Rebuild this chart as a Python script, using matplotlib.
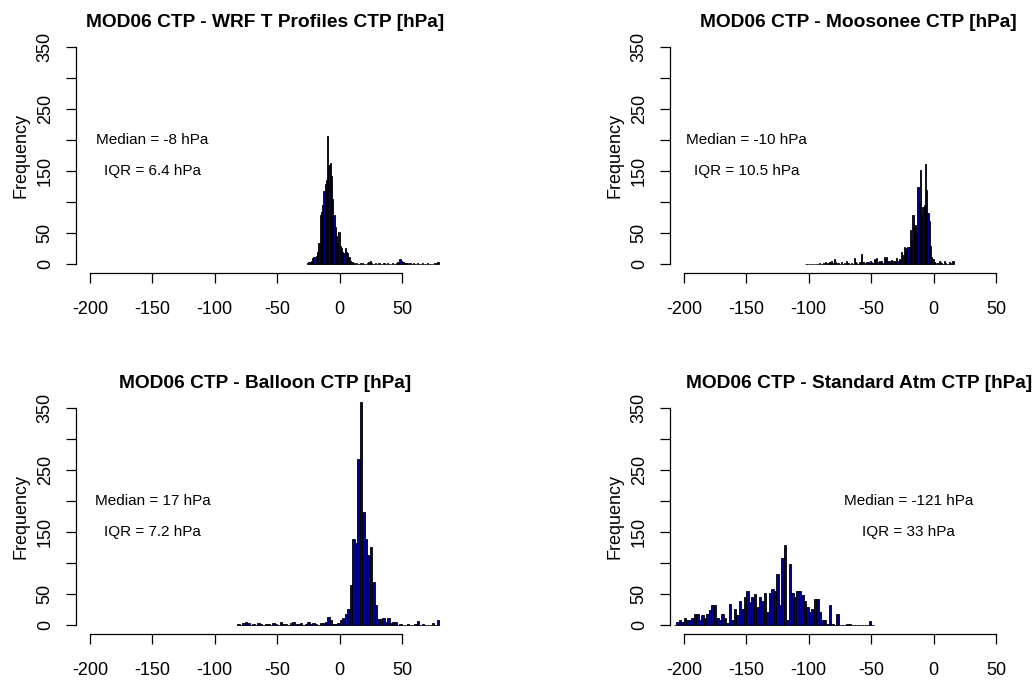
import numpy as np
import matplotlib
matplotlib.use("Agg")
import matplotlib.pyplot as plt

plt.rcParams['font.family'] = ['Liberation Sans', 'DejaVu Sans']

# MOD06 CTP - WRF T profiles, 1 hPa bins
wrf_edges = np.arange(-26, 81, 1)
wrf_counts = [2, 3, 4, 6, 10, 12, 9, 14, 20, 35,
              80, 85, 95, 118, 130, 136, 207, 160, 163, 142,
              105, 80, 60, 46, 35, 52, 30, 26, 20, 18,
              26, 20, 18, 12, 6, 4, 3, 2, 1, 2,
              1, 1, 2, 1, 2, 1, 1, 1, 2, 3,
              6, 2, 1, 1, 2, 1, 1, 2, 1, 1,
              1, 2, 1, 1, 2, 1, 1, 1, 2, 1,
              1, 2, 3, 2, 8, 6, 4, 3, 2, 2,
              2, 1, 2, 1, 1, 2, 1, 1, 2, 1,
              1, 1, 2, 1, 1, 1, 2, 1, 1, 1,
              1, 1, 2, 1, 3, 4]

# MOD06 CTP - Moosonee, 1 hPa bins
moos_edges = np.arange(-103, 17, 1)
moos_counts = [1, 0, 1, 0, 1, 1, 0, 0, 1, 0, 1, 2, 1,
               1, 2, 0, 3, 1, 2, 4, 3, 5, 2,
               9, 3, 1, 2, 0, 1, 3, 1, 2, 1,
               5, 2, 1, 0, 2, 1, 10, 4, 2, 1,
               3, 2, 17, 3, 1, 2, 4, 3, 2, 5,
               3, 2, 9, 6, 10, 4, 5, 3, 6, 2,
               12, 8, 11, 5, 6, 4, 7, 5, 5, 3,
               10, 6, 8, 7, 20, 15, 28, 22, 26, 28,
               28, 55, 40, 79, 60, 63, 50, 125, 100, 152,
               80, 92, 95, 162, 120, 82, 70, 30, 12, 8,
               3, 2, 1, 2, 5, 3, 2, 1, 6, 2, 1, 0, 3, 2, 1, 5]

# MOD06 CTP - Balloon, 2 hPa bins
ball_edges = np.arange(-82, 81, 2)
ball_counts = [2, 1, 3, 5, 4, 1, 2, 1, 3, 2,
               1, 2, 2, 1, 3, 2, 1, 5, 2, 2,
               1, 3, 5, 2, 2, 3, 1, 2, 5, 2,
               3, 2, 1, 3, 3, 6, 13, 8, 2, 2,
               3, 8, 12, 19, 27, 65, 140, 132, 269, 360,
               183, 140, 113, 126, 70, 32, 10, 10, 11, 6,
               11, 4, 6, 6, 1, 2, 1, 1, 2, 1,
               1, 2, 7, 1, 2, 1, 1, 1, 4, 1,
               9]

# MOD06 CTP - Standard atmosphere, 2 hPa bins
std_edges = np.arange(-208, -47, 2)
std_counts = [1, 5, 9, 5, 11, 8, 9, 11, 19, 19, 9, 16, 11,
              19, 25,
              32, 32, 12, 8, 18, 11, 3, 34, 8, 27, 17, 40, 27, 46, 56, 38,
              45,
              51, 30, 46, 40, 52, 22, 52, 59, 56, 83, 32, 108, 129,
              8, 99,
              52, 46, 56, 56, 49, 40,
              30,
              22, 27, 43, 43, 22, 9, 8, 2, 32,
              2, 1, 19, 1, 0,
              1,
              2, 2, 0, 1, 0, 0, 1,
              0,
              0, 7, 1]

titles = ["MOD06 CTP - WRF T Profiles CTP [hPa]",
          "MOD06 CTP - Moosonee CTP [hPa]",
          "MOD06 CTP - Balloon CTP [hPa]",
          "MOD06 CTP - Standard Atm CTP [hPa]"]
medians = ["Median = -8 hPa", "Median = -10 hPa", "Median = 17 hPa", "Median = -121 hPa"]
iqrs = ["IQR = 6.4 hPa", "IQR = 10.5 hPa", "IQR = 7.2 hPa", "IQR = 33 hPa"]
text_x = [-150, -150, -150, -20]

xticks = [-200, -150, -100, -50, 0, 50]
yticks = [0, 50, 100, 150, 200, 250, 300, 350]
ylabels = ['0', '50', '', '150', '', '250', '', '350']

fig = plt.figure(figsize=(10.35, 6.82), dpi=100)
W, H = 1035, 682
pw, ph = 377.4, 234.4
positions = [(76, 273), (670, 273), (76, 634), (670, 634)]
data = [(wrf_edges, wrf_counts), (moos_edges, moos_counts),
        (ball_edges, ball_counts), (std_edges, std_counts)]

for i in range(4):
    x0, yb = positions[i]
    ax = fig.add_axes([x0 / W, 1 - yb / H, pw / W, ph / H])
    edges, counts = data[i]
    ax.bar(edges[:-1], counts, width=np.diff(edges), align='edge',
           color='#00008B', edgecolor='black', linewidth=0.6)
    ax.set_xlim(-211.2, 91.2)
    ax.set_ylim(-14, 364)
    for s in ['top', 'right']:
        ax.spines[s].set_visible(False)
    ax.spines['left'].set_bounds(0, 350)
    ax.spines['bottom'].set_bounds(-200, 50)
    ax.spines['left'].set_linewidth(0.9)
    ax.spines['bottom'].set_linewidth(0.9)
    ax.set_xticks(xticks)
    ax.set_xticklabels([str(t) for t in xticks])
    ax.set_yticks(yticks)
    ax.set_yticklabels(ylabels)
    ax.tick_params(axis='x', length=7, width=0.9, pad=13, labelsize=13)
    ax.tick_params(axis='y', length=7, width=0.9, pad=9, labelsize=13,
                   labelrotation=90)
    for lab in ax.get_yticklabels():
        lab.set_va('center')
    ax.set_ylabel("Frequency", fontsize=13, labelpad=5)
    ax.set_title(titles[i], fontsize=13.8, fontweight='bold', pad=8)
    ax.text(text_x[i], 200, medians[i], ha='center', va='center', fontsize=11)
    ax.text(text_x[i], 150, iqrs[i], ha='center', va='center', fontsize=11)
    ax.patch.set_alpha(0)

fig.savefig("out.png", dpi=100)
